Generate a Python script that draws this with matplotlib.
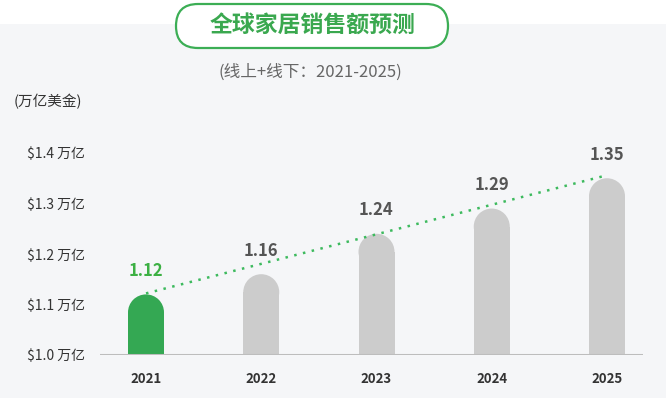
import matplotlib
matplotlib.use("Agg")
import matplotlib.pyplot as plt
from matplotlib.patches import Ellipse, FancyBboxPatch, Rectangle
from matplotlib.transforms import IdentityTransform

plt.rcParams["font.family"] = ["Noto Sans CJK SC", "DejaVu Sans"]

years = ["2021", "2022", "2023", "2024", "2025"]
values = [1.12, 1.16, 1.24, 1.29, 1.35]
tick_values = [1.0, 1.1, 1.2, 1.3, 1.4]
tick_labels = ["$1.0 万亿", "$1.1 万亿", "$1.2 万亿", "$1.3 万亿", "$1.4 万亿"]
title = "全球家居销售额预测"
subtitle = "(线上+线下：2021-2025)"
unit_label = "(万亿美金)"

GREEN = "#34a853"
GREY_BAR = "#cccccc"
PANEL = "#f5f6f8"

W, H = 666, 398
fig = plt.figure(figsize=(W / 100, H / 100), dpi=100, facecolor="white")


def fx(px):
    return px / W


def fy(py):
    return 1 - py / H


# light grey panel behind the chart
fig.patches.append(Rectangle((0, 0), 1, fy(24), transform=fig.transFigure,
                             facecolor=PANEL, edgecolor="none", zorder=-2))

# pill-shaped title box (pixel coordinates, origin bottom-left)
box = FancyBboxPatch((176, H - 48), 448 - 176, 44,
                     boxstyle="round,pad=0,rounding_size=22",
                     transform=IdentityTransform(), facecolor="white",
                     edgecolor="#3cae55", linewidth=1.6, zorder=-1)
fig.patches.append(box)
fig.text(fx(313), fy(26), title, ha="center", va="center", fontsize=16.5,
         fontweight="bold", color="#3aa84f")
fig.text(fx(310), fy(72), subtitle, ha="center", va="center", fontsize=12,
         color="#666666")
fig.text(fx(14), fy(102), unit_label, ha="left", va="center", fontsize=10.5,
         color="#333333")

# main axes: baseline at y=355px, 50.5 px per 0.1
ax_left, ax_right = 100, 643
base_px, top_px = 355, 130
px_per_unit = 505.0
ax = fig.add_axes([fx(ax_left), fy(base_px), fx(ax_right - ax_left),
                   (base_px - top_px) / H])
ax.set_facecolor("none")
ymax = 1.0 + (base_px - top_px) / px_per_unit
ax.set_ylim(1.0, ymax)
step = 115.25
ax.set_xlim(-(146 - ax_left) / step, 4 + (ax_right - 607) / step)

bar_w = 36 / step
ry = 18 / px_per_unit
xs = list(range(len(years)))
colors = [GREEN] + [GREY_BAR] * (len(years) - 1)

ax.bar(xs, [v - 1.0 - ry for v in values], bottom=1.0, width=bar_w,
       color=colors, edgecolor="none", zorder=2)
for x, v, c in zip(xs, values, colors):
    ax.add_patch(Ellipse((x, v - ry), bar_w, 2 * ry, facecolor=c,
                         edgecolor="none", zorder=2))

# dotted trend line
ax.plot([xs[0], xs[-1]], [values[0] + 0.002, values[-1] + 0.006], color="#3dba5e",
        linewidth=1.8, linestyle=(0, (1, 2.6)), zorder=3)

for x, v, c in zip(xs, values, colors):
    col = "#3cb043" if c == GREEN else "#555555"
    ax.annotate(f"{v:.2f}", (x, v), xytext=(0, 10.5), textcoords="offset points",
                ha="center", va="bottom", fontsize=12, fontweight="bold",
                color=col, zorder=4)

ax.axhline(1.0, color="#bdbdbd", linewidth=2.2, zorder=3)

ax.set_xticks(xs)
ax.set_xticklabels(years, fontsize=9.5, fontweight="bold", color="#333333")
ax.set_yticks(tick_values)
ax.set_yticklabels(tick_labels, fontsize=10, color="#333333")
ax.tick_params(axis="both", length=0)
ax.tick_params(axis="x", pad=12)
ax.tick_params(axis="y", pad=11)
for s in ax.spines.values():
    s.set_visible(False)

fig.savefig("out.png", dpi=100, facecolor=fig.get_facecolor())
